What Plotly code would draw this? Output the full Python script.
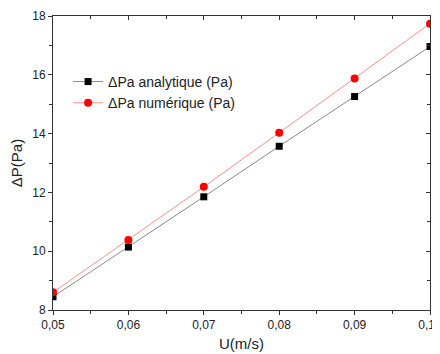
import plotly.graph_objects as go

u = [0.05, 0.06, 0.07, 0.08, 0.09, 0.10]
dp_analytique = [8.45, 10.14, 11.85, 13.57, 15.26, 16.96]
dp_numerique = [8.60, 10.38, 12.19, 14.03, 15.87, 17.74]
x_ticks = [0.05, 0.06, 0.07, 0.08, 0.09, 0.10]
x_ticktext = ["0,05", "0,06", "0,07", "0,08", "0,09", "0,10"]
y_ticks = [8, 10, 12, 14, 16, 18]

FONT = "Liberation Sans, Arial, sans-serif"

fig = go.Figure()
fig.add_trace(go.Scatter(
    x=u, y=dp_analytique, mode="lines+markers", name="ΔPa analytique (Pa)",
    line=dict(color="#8a8a8a", width=1),
    marker=dict(symbol="square", size=7, color="black"),
))
fig.add_trace(go.Scatter(
    x=u, y=dp_numerique, mode="lines+markers", name="ΔPa numérique (Pa)",
    line=dict(color="#ff8c8c", width=1),
    marker=dict(symbol="circle", size=8, color="red"),
))
fig.add_trace(go.Scatter(x=[None], y=[None], xaxis="x2", yaxis="y2",
                         showlegend=False, hoverinfo="skip"))

axis_common = dict(showgrid=False, zeroline=False, linecolor="#333", linewidth=1,
                   tickcolor="#333", automargin=False, ticklabeloverflow="allow",
                   tickfont=dict(family=FONT, size=12, color="#222"))

# page body has an 8px default margin, so the figure is sized to fit the window
fig.update_layout(
    width=432, height=346,
    margin=dict(l=45, r=10, t=8, b=44, autoexpand=False),
    paper_bgcolor="white", plot_bgcolor="white",
    font=dict(family=FONT, color="#222"),
    showlegend=True,
    legend=dict(x=0.04, y=0.83, xanchor="left", yanchor="top",
                bgcolor="rgba(0,0,0,0)", font=dict(family=FONT, size=14, color="#222"),
                tracegroupgap=0, itemwidth=30),
    xaxis=dict(range=[0.05, 0.10], tickvals=x_ticks, ticktext=x_ticktext,
               ticks="outside", ticklen=4, mirror=True,
               minor=dict(ticks="outside", ticklen=3, dtick=0.005, tick0=0.05, tickcolor="#333"),
               title=dict(text="U(m/s)", font=dict(family=FONT, size=15, color="#222"), standoff=7),
               **axis_common),
    yaxis=dict(range=[8, 18], tickvals=y_ticks,
               ticks="outside", ticklen=4, mirror=True,
               minor=dict(ticks="outside", ticklen=3, dtick=1, tick0=8, tickcolor="#333"),
               title=dict(text="ΔP(Pa)", font=dict(family=FONT, size=15, color="#222"), standoff=12),
               **axis_common),
    xaxis2=dict(range=[0.05, 0.10], overlaying="x", side="top", tickvals=x_ticks,
                showticklabels=False, ticks="inside", ticklen=4, showgrid=False,
                zeroline=False, showline=False, tickcolor="#333", automargin=False,
                minor=dict(ticks="inside", ticklen=3, dtick=0.005, tick0=0.05, tickcolor="#333")),
    yaxis2=dict(range=[8, 18], overlaying="y", side="right", anchor="x", tickvals=y_ticks,
                showticklabels=False, ticks="inside", ticklen=4, showgrid=False,
                zeroline=False, showline=False, tickcolor="#333", automargin=False,
                minor=dict(ticks="inside", ticklen=3, dtick=1, tick0=8, tickcolor="#333")),
)

fig.write_html("out.html")
